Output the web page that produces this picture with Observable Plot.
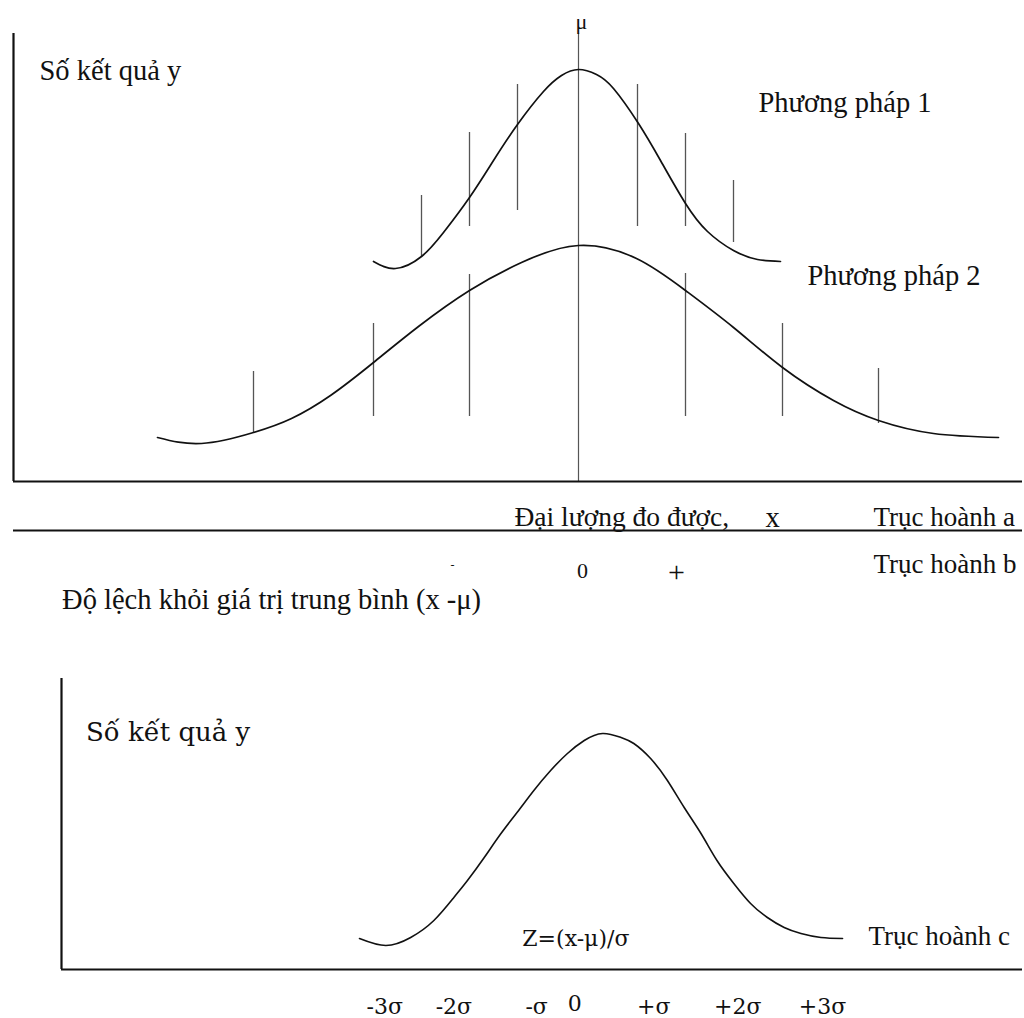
<!DOCTYPE html>
<html>
<head>
<meta charset="utf-8">
<script src="https://cdn.jsdelivr.net/npm/d3@7"></script>
<script src="https://cdn.jsdelivr.net/npm/@observablehq/plot@0.6"></script>
<style>
  body { margin: 0; background: #fff; }
  svg { display: block; }
</style>
</head>
<body>
<div id="chart"></div>
<script>
// ---------- DATA ----------
// Top panel: measured quantity x (mu = 50), number of results y
const mu = 50;
const m1X = [29.5, 31.7, 34.3, 36.5, 39.1, 41.5, 43.9, 46.5, 48.3, 50.0, 51.8, 53.5, 56.0, 58.2, 60.7, 62.9, 65.5, 67.9, 70.2];
const m1Y = [22.0, 21.3, 22.5, 24.9, 28.4, 32.1, 35.7, 39.0, 40.6, 41.2, 40.7, 39.3, 35.8, 32.1, 27.8, 25.0, 23.1, 22.2, 22.0];
const m2X = [7.9, 12.3, 17.5, 21.3, 25.2, 29.5, 34.0, 39.1, 44.3, 50.0, 55.8, 60.7, 65.5, 70.4, 75.5, 80.0, 85.5, 92.0];
const m2Y = [4.4, 3.8, 4.9, 6.3, 8.6, 11.9, 15.5, 19.1, 21.9, 23.6, 22.3, 19.1, 15.4, 11.4, 8.1, 6.1, 4.8, 4.4];

// individual result bars
const m1BarX  = [34.3, 39.1, 43.9, 55.9, 60.7, 65.5];
const m1BarLo = [22.5, 25.5, 27.1, 25.5, 25.5, 23.9];
const m1BarHi = [28.6, 34.9, 39.7, 39.7, 34.8, 30.1];
const m2BarX  = [17.5, 29.5, 39.1, 60.7, 70.4, 80.0];
const m2BarLo = [4.8, 6.5, 6.5, 6.5, 6.5, 5.8];
const m2BarHi = [11.0, 15.8, 20.7, 20.8, 15.8, 11.3];

// Bottom panel: standardized Z, number of results y
const zX = [-2.69, -2.36, -2.05, -1.76, -1.51, -1.34, -1.13, -0.93, -0.72, -0.51, -0.30, -0.09, 0.12, 0.35, 0.58, 0.74, 0.95, 1.16, 1.37, 1.58, 1.78, 1.99, 2.20, 2.41, 2.62, 2.83, 3.08, 3.35];
const zY = [3.1, 2.4, 3.2, 4.9, 7.2, 8.9, 11.2, 13.5, 15.7, 17.9, 19.9, 21.6, 22.9, 23.6, 23.2, 22.6, 21.1, 18.9, 16.2, 13.6, 10.9, 8.6, 6.6, 5.2, 4.2, 3.6, 3.2, 3.1];

// tick labels of the Z axis
const sigmaLabels = ["-3σ", "-2σ", "-σ", "0", "+σ", "+2σ", "+3σ"];
const sigmaPos    = [-2.375, -1.51, -0.475, 0, 0.99, 2.04, 3.1];

// text labels
const topLabels = ["Số kết quả y", "Phương pháp 1", "Phương pháp 2"];
const measLabel = "Đại lượng đo được,";
const axisLabels = ["Trục hoành a", "Trục hoành b"];
const devLabel = "Độ lệch khỏi giá trị trung bình (x -μ)";
const botLabels = ["Số kết quả y", "Z=(x-μ)/σ", "Trục hoành c"];

// ---------- LAYOUT ----------
const serif = "'Liberation Serif', 'Times New Roman', serif";
const serif2 = "'DejaVu Serif', serif";
const ink = "#111";
const gray = "#555";
const fs = 28.5;
const fsAxis = 27;

const m1 = m1X.map((x, i) => ({x, y: m1Y[i]}));
const m2 = m2X.map((x, i) => ({x, y: m2Y[i]}));
const m1Bars = m1BarX.map((x, i) => ({x, lo: m1BarLo[i], hi: m1BarHi[i]}));
const m2Bars = m2BarX.map((x, i) => ({x, lo: m2BarLo[i], hi: m2BarHi[i]}));
const zc = zX.map((x, i) => ({x, y: zY[i]}));

const xTopDomain = [-6.5, 94.4];
const yTopDomain = [0, 44.8];

const topChart = Plot.plot({
  width: 1024, height: 650,
  marginLeft: 13, marginRight: 2, marginTop: 33, marginBottom: 169,
  x: {domain: xTopDomain, axis: null},
  y: {domain: yTopDomain, axis: null},
  style: {background: "#fff", color: ink},
  marks: [
    Plot.ruleX([mu], {stroke: gray, strokeWidth: 1.2}),
    Plot.ruleX(m1Bars, {x: "x", y1: "lo", y2: "hi", stroke: gray, strokeWidth: 1.3}),
    Plot.ruleX(m2Bars, {x: "x", y1: "lo", y2: "hi", stroke: gray, strokeWidth: 1.3}),
    Plot.line(m1, {x: "x", y: "y", curve: "natural", stroke: ink, strokeWidth: 1.7}),
    Plot.line(m2, {x: "x", y: "y", curve: "natural", stroke: ink, strokeWidth: 1.7}),
    Plot.ruleX([xTopDomain[0]], {stroke: ink, strokeWidth: 2.2}),
    Plot.ruleY([0], {stroke: ink, strokeWidth: 2.2}),
    Plot.ruleY([-4.9], {stroke: ink, strokeWidth: 2.2}),
    Plot.text(["μ"], {x: 50.3, y: 46.0, text: d => d, fontSize: 22, fontFamily: serif, fill: ink}),
    Plot.text(topLabels, {x: [-3.9, 68.0, 72.9], y: [41.1, 37.9, 20.6], text: d => d, textAnchor: "start", fontSize: fs, fontFamily: serif, fill: ink}),
    Plot.text([measLabel], {x: 43.6, y: -3.6, text: d => d, textAnchor: "start", fontSize: 27.5, fontFamily: serif, fill: ink}),
    Plot.text(["x"], {x: 69.4, y: -3.6, text: d => d, fontSize: fs, fontFamily: serif, fill: ink}),
    Plot.text(axisLabels, {x: [79.5, 79.5], y: [-3.6, -8.3], text: d => d, textAnchor: "start", fontSize: fsAxis, fontFamily: serif, fill: ink}),
    Plot.text(["-", "0", "+"], {x: [37.4, 50.4, 59.8], y: [-8.4, -8.9, -9.1], text: d => d, fontSize: [12, 22, 30], fontFamily: serif, fill: ink}),
    Plot.text([devLabel], {x: -1.64, y: -11.8, text: d => d, textAnchor: "start", fontSize: fs, fontFamily: serif, fill: ink})
  ]
});

const xBotDomain = [-6.416, 5.6];
const botChart = Plot.plot({
  width: 1024, height: 368,
  marginLeft: 61, marginRight: 2, marginTop: 28, marginBottom: 49,
  x: {domain: xBotDomain, axis: null},
  y: {domain: [0, 29.1], axis: null},
  style: {background: "#fff", color: ink},
  marks: [
    Plot.line(zc, {x: "x", y: "y", curve: "natural", stroke: ink, strokeWidth: 1.6}),
    Plot.ruleX([xBotDomain[0]], {stroke: ink, strokeWidth: 2.2}),
    Plot.ruleY([0], {stroke: ink, strokeWidth: 2.2}),
    Plot.text([botLabels[0]], {x: -6.11, y: 23.7, text: d => d, textAnchor: "start", fontSize: 26, fontFamily: serif2, fill: ink}),
    Plot.text([botLabels[1]], {x: -0.654, y: 3.1, text: d => d, textAnchor: "start", fontSize: 22, fontFamily: serif2, fill: ink}),
    Plot.text([botLabels[2]], {x: 3.675, y: 3.3, text: d => d, textAnchor: "start", fontSize: fsAxis, fontFamily: serif, fill: ink}),
    Plot.text(sigmaLabels, {x: sigmaPos, y: sigmaLabels.map(s => s === "0" ? -3.4 : -3.7), text: d => d, fontSize: 22, fontFamily: serif2, fill: ink})
  ]
});

const root = document.getElementById("chart");
root.appendChild(topChart);
root.appendChild(botChart);
</script>
</body>
</html>
